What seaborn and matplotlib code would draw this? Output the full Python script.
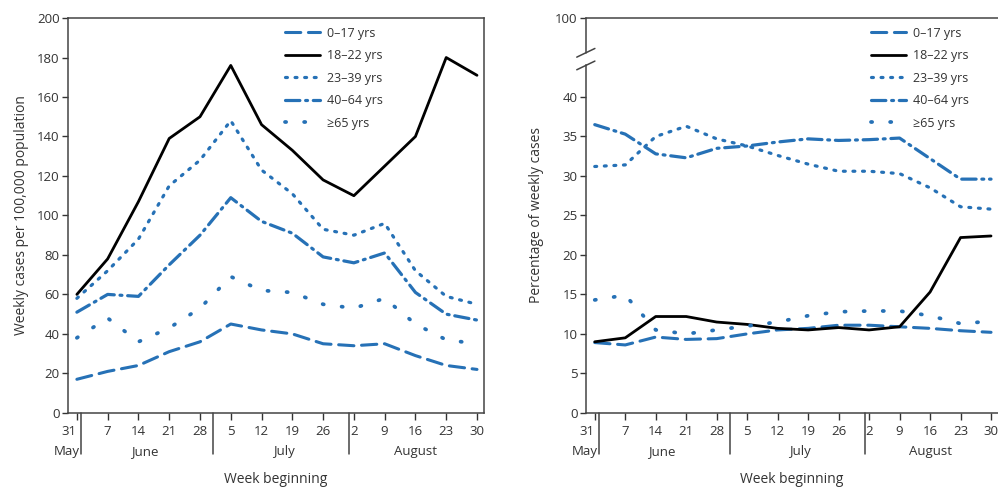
import numpy as np
import pandas as pd
import matplotlib
matplotlib.use("Agg")
import matplotlib.pyplot as plt
import seaborn as sns

# weeks beginning May 31 .. Aug 30, as days since May 31
days = np.arange(0, 92, 7)
week_labels = ["31", "7", "14", "21", "28", "5", "12", "19", "26", "2", "9", "16", "23", "30"]
month_names = ["May", "June", "July", "August"]
month_label_days = [0.6, 15.5, 47, 77]
month_break_days = [1, 31, 62]

groups = ["0\u201317 yrs", "18\u201322 yrs", "23\u201339 yrs", "40\u201364 yrs", "\u226565 yrs"]

# weekly cases per 100,000 population
rate_0_17 = [17, 21, 24, 31, 36, 45, 42, 40, 35, 34, 35, 29, 24, 22]
rate_18_22 = [60, 78, 107, 139, 150, 176, 146, 133, 118, 110, 125, 140, 180, 171]
rate_23_39 = [58, 72, 88, 115, 128, 148, 123, 111, 93, 90, 96, 72, 59, 55]
rate_40_64 = [51, 60, 59, 75, 90, 109, 97, 91, 79, 76, 81, 61, 50, 47]
rate_65 = [38, 48, 36, 43, 53, 69, 62, 61, 55, 53, 58, 45, 37, 35]

# percentage of weekly cases
pct_0_17 = [8.9, 8.6, 9.6, 9.3, 9.4, 10.0, 10.5, 10.7, 11.1, 11.1, 10.9, 10.7, 10.4, 10.2]
pct_18_22 = [9.0, 9.5, 12.2, 12.2, 11.5, 11.2, 10.7, 10.5, 10.8, 10.5, 10.9, 15.3, 22.2, 22.4]
pct_23_39 = [31.2, 31.4, 35.0, 36.3, 34.7, 33.8, 32.6, 31.5, 30.6, 30.6, 30.3, 28.5, 26.1, 25.8]
pct_40_64 = [36.5, 35.3, 32.8, 32.3, 33.5, 33.8, 34.3, 34.7, 34.5, 34.6, 34.8, 32.2, 29.6, 29.6]
pct_65 = [14.3, 14.9, 10.5, 10.0, 10.5, 11.0, 11.5, 12.3, 12.8, 12.9, 12.9, 12.3, 11.3, 11.6]

blue = "#2671b6"
styles = {
    groups[0]: dict(color=blue, lw=2.2, linestyle=(0, (5, 2.5))),
    groups[1]: dict(color="black", lw=2.0, linestyle="-"),
    groups[2]: dict(color=blue, lw=2.3, linestyle=(0, (0.6, 2.4))),
    groups[3]: dict(color=blue, lw=2.3, linestyle=(0, (4.5, 1.8, 0.6, 1.8))),
    groups[4]: dict(color=blue, lw=2.7, linestyle=(0, (0.3, 4.8))),
}

sns.set_theme(style="white")
plt.rcParams["font.family"] = ["Open Sans", "DejaVu Sans"]
plt.rcParams["font.size"] = 9

fig = plt.figure(figsize=(9.98, 4.88), dpi=100)
ax1 = fig.add_axes([0.068, 0.154, 0.417, 0.809])
ax2 = fig.add_axes([0.587, 0.154, 0.413, 0.809])


def draw_panel(ax, series, legend_x):
    for name, vals in zip(groups, series):
        st = styles[name]
        sns.lineplot(x=days, y=vals, ax=ax, label=name, color=st["color"],
                     lw=st["lw"], linestyle=st["linestyle"],
                     dash_capstyle="round", solid_joinstyle="round")
    ax.set_xlim(-2.05, 92.6)
    ax.set_xticks(days)
    ax.set_xticklabels(week_labels, fontsize=9.5, color="#333333")
    ax.tick_params(axis="both", direction="out", length=4, width=1,
                   colors="#333333", pad=2, bottom=True, left=True)
    ax.tick_params(axis="x", length=5, pad=4)
    # first label sits left of the May/June divider
    first = ax.get_xticklabels()[0]
    first.set_horizontalalignment("right")
    first.set_x(0)
    for sp in ax.spines.values():
        sp.set_color("#444444")
        sp.set_linewidth(1.1)
    trans = ax.get_xaxis_transform()
    for d in month_break_days:
        ax.plot([d, d], [0, -0.105], transform=trans, color="#444444",
                lw=1.1, clip_on=False)
    for i, (d, m) in enumerate(zip(month_label_days, month_names)):
        ax.text(d, -0.097, m, transform=trans,
                ha="right" if i == 0 else "center", va="center",
                fontsize=9.5, color="#333333")
    ax.set_xlabel("Week beginning", fontsize=10, color="#333333", labelpad=24)
    leg = ax.legend(loc="upper left", bbox_to_anchor=(legend_x, 1.0),
                    frameon=False, fontsize=9, handlelength=2.8,
                    labelspacing=0.76, borderaxespad=0.3, handletextpad=0.6)
    for t in leg.get_texts():
        t.set_color("#333333")


draw_panel(ax1, [rate_0_17, rate_18_22, rate_23_39, rate_40_64, rate_65], 0.50)
ax1.set_ylim(0, 200)
ax1.set_yticks(np.arange(0, 201, 20))
ax1.tick_params(axis="y", labelsize=9.5)
ax1.set_ylabel("Weekly cases per 100,000 population", fontsize=10,
               color="#333333", labelpad=6)

draw_panel(ax2, [pct_0_17, pct_18_22, pct_23_39, pct_40_64, pct_65], 0.67)
ax2.set_ylim(0, 50)
ax2.set_yticks([0, 5, 10, 15, 20, 25, 30, 35, 40, 50])
ax2.set_yticklabels(["0", "5", "10", "15", "20", "25", "30", "35", "40", "100"])
ax2.tick_params(axis="y", labelsize=9.5)
ax2.set_ylabel("Percentage of weekly cases", fontsize=10, color="#333333",
               labelpad=8)
ax2.spines["right"].set_visible(False)

# axis break on the right panel
ax2.spines["left"].set_bounds(0, 44.0)
ytrans = ax2.get_yaxis_transform()
ax2.plot([0, 0], [45.6, 50], transform=ytrans, color="#444444", lw=1.1,
         clip_on=False)
for yb in (44.0, 45.6):
    ax2.plot([-0.022, 0.022], [yb - 0.55, yb + 0.55], transform=ytrans,
             color="#444444", lw=1.1, clip_on=False)

fig.savefig("out.png", dpi=100)
